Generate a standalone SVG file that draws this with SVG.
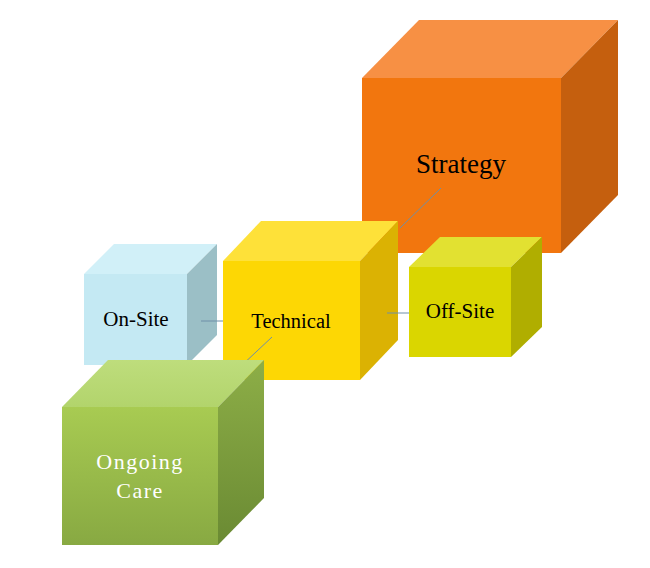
<svg xmlns="http://www.w3.org/2000/svg" width="650" height="568" viewBox="0 0 650 568">
<defs>
<linearGradient id="gFront" x1="0" y1="0" x2="0" y2="1"><stop offset="0" stop-color="#A8CB52"/><stop offset="1" stop-color="#88A942"/></linearGradient>
<linearGradient id="gRight" x1="0" y1="0" x2="0" y2="1"><stop offset="0" stop-color="#8DAE47"/><stop offset="1" stop-color="#6A8A33"/></linearGradient>
<linearGradient id="gTop" x1="0" y1="0" x2="0" y2="1"><stop offset="0" stop-color="#BEDD7C"/><stop offset="1" stop-color="#B2D46C"/></linearGradient>
</defs>
<style>
.lbl{font-family:"Liberation Serif","Times New Roman",serif;text-anchor:middle;fill:#000}
.conn{stroke:#6E8FA8;stroke-width:1;fill:none}
</style>
<rect width="650" height="568" fill="#FFFFFF"/>
<g id="strategy">
<rect x="362" y="78" width="199" height="175" fill="#F2760E"/>
<polygon points="362,78 419,20 618,20 561,78" fill="#F79044"/>
<polygon points="561,78 618,20 618,195 561,253" fill="#C55F0E"/>
<text class="lbl" x="461" y="173" font-size="27">Strategy</text>
</g>
<g id="offsite">
<rect x="409" y="267" width="102" height="90" fill="#DAD600"/>
<polygon points="409,267 440,237 542,237 511,267" fill="#E2E131"/>
<polygon points="511,267 542,237 542,327 511,357" fill="#B0AE00"/>
<text class="lbl" x="460" y="318" font-size="21">Off-Site</text>
</g>
<g id="onsite">
<rect x="84" y="274" width="103" height="91" fill="#C4E9F3"/>
<polygon points="84,274 114,244 217,244 187,274" fill="#D1F0F8"/>
<polygon points="187,274 217,244 217,335 187,365" fill="#9BBFC6"/>
<text class="lbl" x="136" y="326" font-size="21">On-Site</text>
</g>
<g id="technical">
<rect x="223" y="261" width="137" height="119" fill="#FDD704"/>
<polygon points="223,261 261,221 398,221 360,261" fill="#FEE139"/>
<polygon points="360,261 398,221 398,340 360,380" fill="#DBB203"/>
<text class="lbl" x="291" y="328" font-size="20.5">Technical</text>
</g>
<g id="connectors">
<line class="conn" x1="201" y1="321" x2="223" y2="321"/>
<line class="conn" x1="387" y1="313" x2="409" y2="313"/>
<line class="conn" x1="400" y1="228" x2="441" y2="188" stroke="#8A7A6A"/>
<line class="conn" x1="272" y1="337" x2="240" y2="367"/>
</g>
<g id="ongoing">
<rect x="62" y="407" width="156" height="138" fill="url(#gFront)"/>
<polygon points="62,407 108,360 264,360 218,407" fill="url(#gTop)"/>
<polygon points="218,407 264,360 264,498 218,545" fill="url(#gRight)"/>
<text class="lbl" x="140" y="469" font-size="22" letter-spacing="1.5" style="fill:#FFFFFF">Ongoing</text>
<text class="lbl" x="140" y="498" font-size="22" letter-spacing="1.5" style="fill:#FFFFFF">Care</text>
</g>
</svg>
